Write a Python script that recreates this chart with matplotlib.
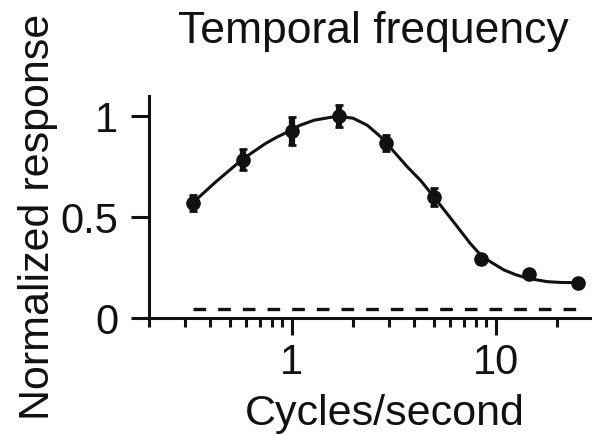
import matplotlib
matplotlib.use("Agg")
import matplotlib.pyplot as plt
from matplotlib.ticker import FixedLocator, LogLocator, NullFormatter

# measured responses
freq = [0.33, 0.58, 1.0, 1.7, 2.9, 5.0, 8.5, 14.6, 25.3]
resp = [0.57, 0.785, 0.925, 1.0, 0.865, 0.60, 0.29, 0.22, 0.175]
resp_err = [0.04, 0.05, 0.07, 0.055, 0.04, 0.043, 0.02, 0.02, 0.02]

# fitted curve
fit_x = [0.332, 0.42, 0.573, 0.746, 0.85, 0.97, 1.1, 1.29, 1.67, 2.0, 2.35,
         2.73, 3.2, 3.69, 4.3, 4.98, 5.7, 6.49, 7.5, 8.6, 10.98, 12.5,
         14.3, 17.9, 21.0, 25.1]
fit_y = [0.576, 0.67, 0.786, 0.865, 0.897, 0.925, 0.955, 0.98, 1.0, 0.99,
         0.955, 0.898, 0.82, 0.749, 0.68, 0.60, 0.525, 0.452, 0.37, 0.303,
         0.238, 0.215, 0.197, 0.180, 0.176, 0.175]

baseline = 0.045
baseline_x = [0.33, 25.3]

plt.rcParams['font.family'] = ['Liberation Sans', 'DejaVu Sans']

fig = plt.figure(figsize=(5.92, 4.36), dpi=100)
ax = fig.add_axes([149 / 592, 118 / 436, 441 / 592, 222 / 436])

ax.plot(fit_x, fit_y, color="#111111", lw=2.2, zorder=2)
ax.errorbar(freq, resp, yerr=resp_err, fmt="o", color="#111111", ms=9.5,
            elinewidth=4.5, capsize=3, capthick=2, zorder=3)
ax.plot(baseline_x, [baseline, baseline], color="#111111", lw=2.4,
        linestyle=(0, (3.8, 3.6)))

ax.set_xscale("log")
ax.set_xlim(0.2, 29)
ax.set_ylim(0, 1.1)

ax.xaxis.set_major_locator(FixedLocator([1, 10]))
ax.set_xticklabels(["1", "10"])
ax.xaxis.set_minor_locator(LogLocator(base=10, subs=range(2, 10), numticks=20))
ax.xaxis.set_minor_formatter(NullFormatter())
ax.set_yticks([0, 0.5, 1])
ax.set_yticklabels(["0", "0.5", "1"])

for side in ["top", "right"]:
    ax.spines[side].set_visible(False)
for side in ["left", "bottom"]:
    ax.spines[side].set_linewidth(2.2)
    ax.spines[side].set_color("#111111")

ax.tick_params(axis="both", which="major", width=2.2, colors="#111111",
               labelsize=30)
ax.tick_params(axis="x", which="major", length=12, pad=6)
ax.tick_params(axis="y", which="major", length=13, pad=9)
ax.tick_params(axis="x", which="minor", length=6.5, width=2.2, colors="#111111")

fig.text(373 / 592, 1 - 43 / 436, "Temporal frequency", fontsize=32,
         ha="center", va="baseline", color="#111111")
fig.text(385 / 592, 1 - 425 / 436, "Cycles/second", fontsize=31,
         ha="center", va="baseline", color="#111111")
fig.text(18 / 592, 1 - 217 / 436, "Normalized response", fontsize=31,
         rotation=90, ha="left", va="center", color="#111111")

fig.savefig("out.png", dpi=100)
